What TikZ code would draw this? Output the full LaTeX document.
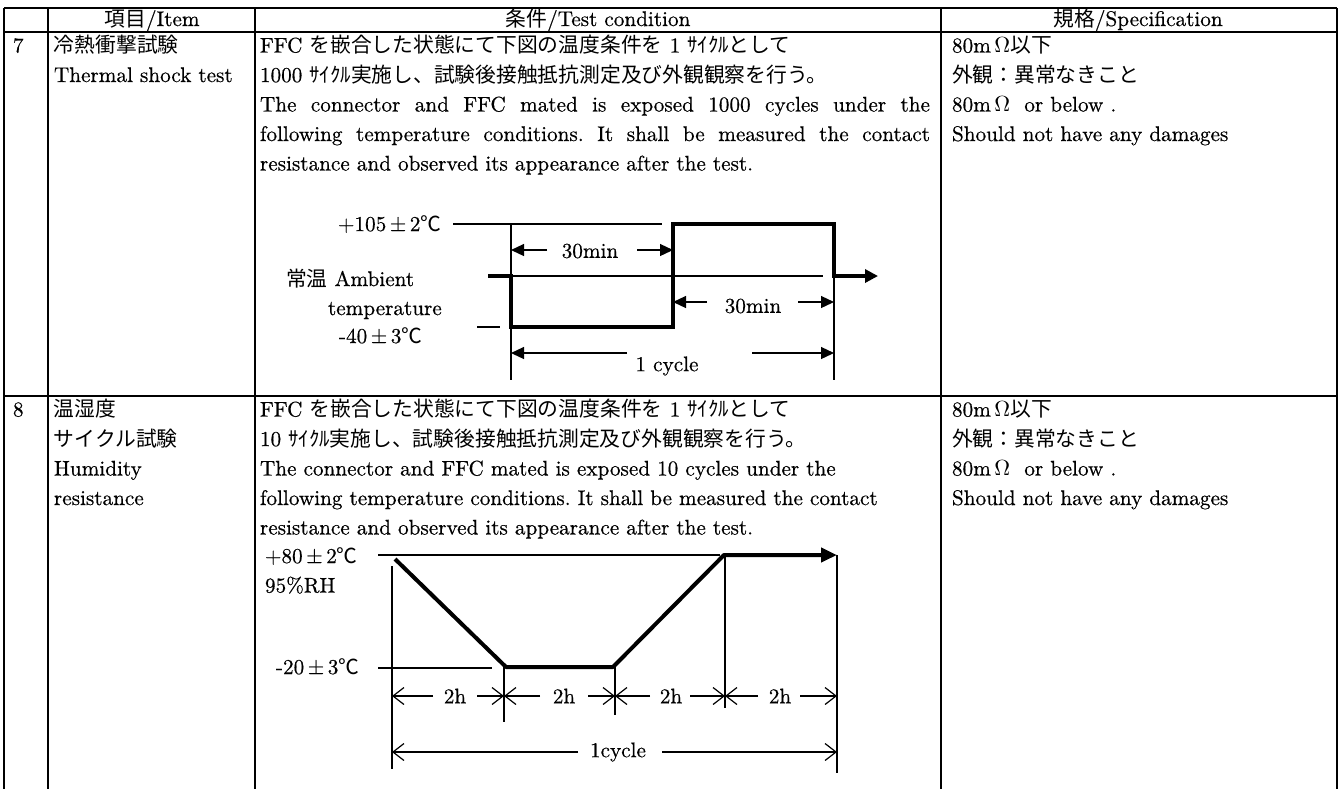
\documentclass[tikz,border=0pt]{standalone}
\usepackage{fontspec}
\setmainfont{lmroman10-regular.otf}[FakeBold=0.5]
\newfontfamily\jp{Noto Sans CJK JP}[Scale=0.98]
\usetikzlibrary{arrows.meta}
\begin{document}
\begin{tikzpicture}[x=0.5pt,y=-0.5pt,
  every node/.style={inner sep=0pt, outer sep=0pt, font=\fontsize{10.6}{12}\selectfont\frenchspacing},
  txt/.style={anchor=base west},
  ctr/.style={anchor=base},
  grid/.style={line width=0.75pt},
  fine/.style={line width=0.6pt},
  heavy/.style={line width=2pt},
  fdim/.style={fine, -{Triangle[length=6.5pt,width=6pt]}},
  odim/.style={fine, -{Straight Barb[length=5.5pt,width=8.5pt]}},
]
\useasboundingbox (0,0) rectangle (1342,789);

% ---------------- table grid ----------------
\draw[grid] (4,8) -- (1337,8);
\draw[grid] (4,32) -- (1337,32);
\draw[grid] (4,396) -- (1337,396);
\foreach \x in {4,48,255,941,1337} \draw[grid] (\x,8) -- (\x,789);

% ---------------- header ----------------
\node[ctr] (h1) at (152,26) {{\jp 項目}/Item};
\node[ctr] (h2) at (598,26) {{\jp 条件}/Test condition};
\node[ctr] (h3) at (1138,26) {{\jp 規格}/Specification};

% ---------------- row 7 ----------------
\node[txt] (n7) at (13,52.5) {7};
\node[txt] (i7a) at (54,52.5) {\jp 冷熱衝撃試験};
\node[txt] (i7b) at (54,82) {Thermal shock test};

\node[txt] (c7a) at (260,52.5) {FFC {\jp を嵌合した状態にて下図の温度条件を} 1 {\jp ｻｲｸﾙとして}};
\node[txt] (c7b) at (260,82) {1000 {\jp ｻｲｸﾙ実施し、試験後接触抵抗測定及び外観観察を行う。}};
\node[txt] (c7c) at (260,111.5) {\makebox[335pt][s]{The connector and FFC mated is exposed 1000 cycles under the}};
\node[txt] (c7d) at (260,141) {\makebox[335pt][s]{following temperature conditions. It shall be measured the contact}};
\node[txt] (c7e) at (260,170.5) {resistance and observed its appearance after the test.};

\node[txt] (s7a) at (952,52.5) {80m\,$\Omega${\jp 以下}};
\node[txt] (s7b) at (952,82) {\jp 外観：異常なきこと};
\node[txt] (s7c) at (952,111.5) {80m\,$\Omega$\ \ or below .};
\node[txt] (s7d) at (952,141) {Should not have any damages};

% ---------------- diagram 1 : thermal shock ----------------
\node[txt] (l105) at (338,231) {+105\,{±}\,2{\jp ℃}};
\node[txt] (lamb) at (286,286) {{\jp 常温} Ambient};
\node[txt] (ltmp) at (328,315) {temperature};
\node[txt] (l40) at (339,343) {-40\,{±}\,3{\jp ℃}};

\coordinate (a0) at (488,276);
\coordinate (a1) at (511,276);
\coordinate (a2) at (511,327);
\coordinate (a3) at (673,327);
\coordinate (a4) at (673,224);
\coordinate (a5) at (834,224);
\coordinate (a6) at (834,276);
\coordinate (a7) at (878,276);

% thin reference lines
\draw[fine] (453,224) -- (662,224);
\draw[fine] (a1) -- (823,276);
\draw[fine] (477,327) -- (500,327);
\draw[fine] (511,224) -- (511,380);
\draw[fine] (a6) -- (834,380);
% waveform
\draw[heavy, -{Triangle[length=6.5pt,width=6.5pt]}] (a0) -- (a1) -- (a2) -- (a3) -- (a4) -- (a5) -- (a6) -- (a7);

% dimensions
\node (t30a) at (590,251) {30min};
\coordinate (p1) at (547,250); \coordinate (p2) at (637,250);
\draw[fdim] (p1) -- (p1 -| a1);
\draw[fdim] (p2) -- (p2 -| a3);

\node (t30b) at (753,306) {30min};
\coordinate (p3) at (707,302); \coordinate (p4) at (798,302);
\draw[fdim] (p3) -- (p3 -| a3);
\draw[fdim] (p4) -- (p4 -| a6);

\node (tcy1) at (667,366) {1 cycle};
\coordinate (p5) at (627,353); \coordinate (p6) at (752,353);
\draw[fdim] (p5) -- (p5 -| a1);
\draw[fdim] (p6) -- (p6 -| a6);

% ---------------- row 8 ----------------
\node[txt] (n8) at (13,416.5) {8};
\node[txt] (i8a) at (54,416.5) {\jp 温湿度};
\node[txt] (i8b) at (54,446) {\jp サイクル試験};
\node[txt] (i8c) at (54,475.5) {Humidity};
\node[txt] (i8d) at (54,505) {resistance};

\node[txt] (c8a) at (260,416.5) {FFC {\jp を嵌合した状態にて下図の温度条件を} 1 {\jp ｻｲｸﾙとして}};
\node[txt] (c8b) at (260,446) {10 {\jp ｻｲｸﾙ実施し、試験後接触抵抗測定及び外観観察を行う。}};
\node[txt] (c8c) at (260,475.5) {The connector and FFC mated is exposed 10 cycles under the};
\node[txt] (c8d) at (260,505) {following temperature conditions. It shall be measured the contact};
\node[txt] (c8e) at (260,534.5) {resistance and observed its appearance after the test.};

\node[txt] (s8a) at (952,416.5) {80m\,$\Omega${\jp 以下}};
\node[txt] (s8b) at (952,446) {\jp 外観：異常なきこと};
\node[txt] (s8c) at (952,475.5) {80m\,$\Omega$\ \ or below .};
\node[txt] (s8d) at (952,505) {Should not have any damages};

% ---------------- diagram 2 : humidity ----------------
\node[txt] (l80) at (265,563) {+80\,{±}\,2{\jp ℃}};
\node[txt] (lrh) at (265,592.5) {95\%RH};
\node[txt] (l20) at (276,674) {-20\,{±}\,3{\jp ℃}};

\coordinate (b0) at (395,559);
\coordinate (b1) at (506,667);
\coordinate (b2) at (613,667);
\coordinate (b3) at (724,555);
\coordinate (b4) at (837,555);

\draw[fine] (378,555) -- (720,555);
\draw[fine] (378,668) -- (492,668);
\coordinate (v1) at (392,696);
\coordinate (v2) at (504,696);
\coordinate (v3) at (615,696);
\coordinate (v4) at (725,696);
\coordinate (v5) at (837,696);
\draw[fine] (392,566) -- (392,769);
\draw[fine] (504,667) -- (504,722);
\draw[fine] (615,667) -- (615,715);
\draw[fine] (725,555) -- (725,708);
\draw[fine] (837,555) -- (837,773);

\draw[heavy, line join=round, -{Triangle[length=8pt,width=7pt]}] (b0) -- (b1) -- (b2) -- (b3) -- (b4);

% 2h dimensions
\node (h2a) at (455,696) {2h};
\coordinate (q1) at (433,696); \coordinate (q2) at (477,696);
\draw[odim] (q1) -- (v1); \draw[odim] (q2) -- (v2);
\node (h2b) at (564,696) {2h};
\coordinate (q3) at (540,696); \coordinate (q4) at (588,696);
\draw[odim] (q3) -- (v2); \draw[odim] (q4) -- (v3);
\node (h2c) at (671,696) {2h};
\coordinate (q5) at (650,696); \coordinate (q6) at (690,696);
\draw[odim] (q5) -- (v3); \draw[odim] (q6) -- (v4);
\node (h2d) at (780,696) {2h};
\coordinate (q7) at (758,696); \coordinate (q8) at (800,696);
\draw[odim] (q7) -- (v4); \draw[odim] (q8) -- (v5);

% 1cycle
\node (tcy2) at (618,752) {1cycle};
\coordinate (r1) at (578,752); \coordinate (r2) at (662,752);
\draw[odim] (r1) -- (r1 -| v1);
\draw[odim] (r2) -- (r2 -| v5);

\end{tikzpicture}
\end{document}
